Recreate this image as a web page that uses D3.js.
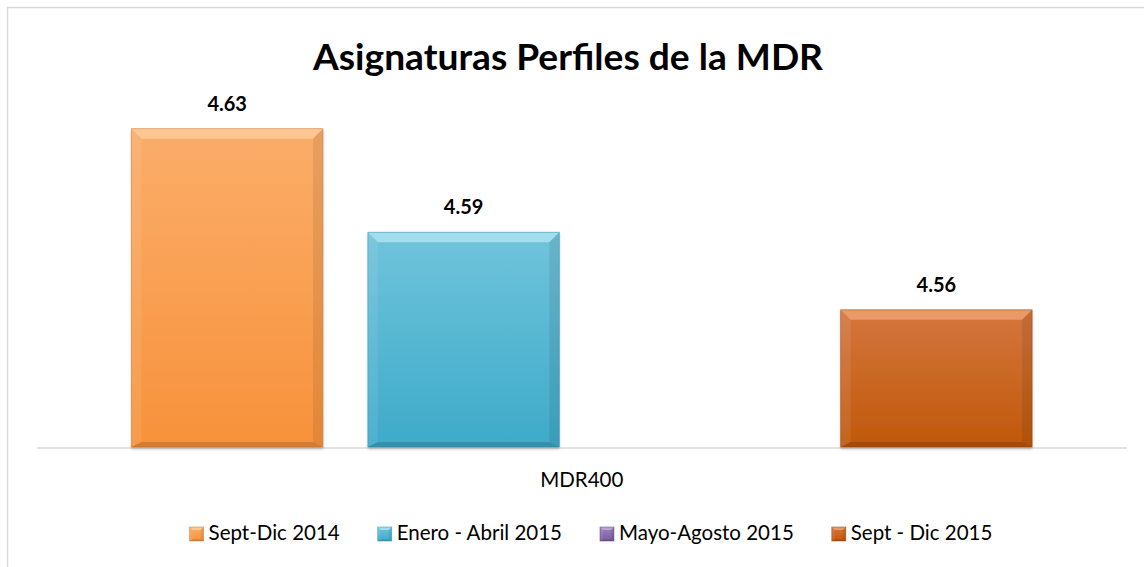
<!DOCTYPE html>
<html>
<head>
<meta charset="utf-8">
<script src="https://cdn.jsdelivr.net/npm/d3@7"></script>
<style>
  body { margin: 0; background: #fff; }
  svg { display: block; font-family: Lato, "Open Sans", sans-serif; }
</style>
</head>
<body>
<div id="canvas"></div>
<script>
// chart data
var title = "Asignaturas Perfiles de la MDR";
var category = "MDR400";
var series = ["Sept-Dic 2014", "Enero - Abril 2015", "Mayo-Agosto 2015", "Sept - Dic 2015"];
var values = [4.63, 4.59, null, 4.56];
var colors = [
  {top: "#fbad6a", bottom: "#f7923b", bevel: "#fdd0a2", edge: "#c8742c"},
  {top: "#70c4db", bottom: "#3eaac9", bevel: "#b2e6f3", edge: "#2f8aa5"},
  {top: "#9a82bb", bottom: "#7a5d9e", bevel: "#c4b3da", edge: "#5e4680"},
  {top: "#d4763f", bottom: "#c0580a", bevel: "#f1a677", edge: "#8f4208"}
];

var width = 1144, height = 567;
var margin = {left: 37, right: 17, top: 128, bottom: 120};
var baseY = 447;

var svg = d3.select("#canvas")
  .append("svg")
  .attr("width", width)
  .attr("height", height);

var defs = svg.append("defs");

colors.forEach(function (c, i) {
  var g = defs.append("linearGradient")
    .attr("id", "grad" + i)
    .attr("x1", 0).attr("y1", 0).attr("x2", 0).attr("y2", 1);
  g.append("stop").attr("offset", "0%").attr("stop-color", c.top);
  g.append("stop").attr("offset", "100%").attr("stop-color", c.bottom);
});

var sh = defs.append("filter").attr("id", "shadow")
  .attr("x", "-5%").attr("y", "-5%").attr("width", "110%").attr("height", "110%");
sh.append("feDropShadow")
  .attr("dx", 0).attr("dy", 2).attr("stdDeviation", 1.5)
  .attr("flood-color", "#000").attr("flood-opacity", 0.25);

// chart border (only left and top visible in the crop)
svg.append("path")
  .attr("d", "M7.5,567 L7.5,7.5 L1144,7.5")
  .attr("fill", "none")
  .attr("stroke", "#d9d9d9")
  .attr("stroke-width", 1.5);

// title
svg.append("text")
  .attr("x", 568)
  .attr("y", 70)
  .attr("text-anchor", "middle")
  .attr("font-size", 37)
  .attr("font-weight", "bold")
  .attr("fill", "#000")
  .attr("textLength", 510)
  .attr("lengthAdjust", "spacingAndGlyphs")
  .text(title);

// scales
var x = d3.scaleBand()
  .domain(series)
  .range([109, 1054.6])
  .paddingInner(0.19)
  .paddingOuter(0.095);

var y = d3.scaleLinear()
  .domain([4.507, 4.63])
  .range([baseY, baseY - 318.3]);

// axis line
svg.append("line")
  .attr("x1", margin.left)
  .attr("x2", width - margin.right)
  .attr("y1", baseY + 1)
  .attr("y2", baseY + 1)
  .attr("stroke", "#d9d9d9")
  .attr("stroke-width", 1.5);

var data = series.map(function (s, i) {
  return {name: s, value: values[i], c: colors[i], i: i};
}).filter(function (d) { return d.value != null; });

var bars = svg.selectAll(".bar")
  .data(data)
  .enter()
  .append("g")
  .attr("class", "bar");

function bevelShapes(g, x0, x1, y0, y1, b, c) {
  g.append("rect")
    .attr("x", x0).attr("y", y0)
    .attr("width", x1 - x0).attr("height", y1 - y0)
    .attr("fill", "url(#grad" + c.idx + ")")
    .attr("filter", c.shadow ? "url(#shadow)" : null);
  // top bevel
  g.append("polygon")
    .attr("points", [[x0, y0], [x1, y0], [x1 - b, y0 + b], [x0 + b, y0 + b]].join(" "))
    .attr("fill", c.bevel).attr("opacity", 0.75);
  // left bevel
  g.append("polygon")
    .attr("points", [[x0, y0], [x0 + b, y0 + b], [x0 + b, y1 - b / 2], [x0, y1]].join(" "))
    .attr("fill", "#fff").attr("opacity", 0.08);
  // right bevel
  g.append("polygon")
    .attr("points", [[x1, y0], [x1 - b, y0 + b], [x1 - b, y1 - b / 2], [x1, y1]].join(" "))
    .attr("fill", "#000").attr("opacity", 0.08);
  // bottom bevel
  g.append("polygon")
    .attr("points", [[x0, y1], [x0 + b, y1 - b / 2], [x1 - b, y1 - b / 2], [x1, y1]].join(" "))
    .attr("fill", "#000").attr("opacity", 0.15);
  g.append("rect")
    .attr("x", x0).attr("y", y0)
    .attr("width", x1 - x0).attr("height", y1 - y0)
    .attr("fill", "none")
    .attr("stroke", c.edge).attr("stroke-opacity", 0.6).attr("stroke-width", 0.8);
}

bars.each(function (d) {
  var g = d3.select(this);
  var x0 = x(d.name), x1 = x(d.name) + x.bandwidth();
  bevelShapes(g, x0, x1, y(d.value), baseY, 10,
    {idx: d.i, bevel: d.c.bevel, edge: d.c.edge, shadow: true});
});

// value labels
svg.selectAll(".val")
  .data(data)
  .enter()
  .append("text")
  .attr("class", "val")
  .attr("x", function (d) { return x(d.name) + x.bandwidth() / 2; })
  .attr("y", function (d) { return y(d.value) - 18; })
  .attr("text-anchor", "middle")
  .attr("font-size", 20)
  .attr("font-weight", "bold")
  .attr("fill", "#000")
  .text(function (d) { return d3.format(".2f")(d.value); });

// category label
svg.append("text")
  .attr("x", (x.range()[0] + x.range()[1]) / 2)
  .attr("y", 487)
  .attr("text-anchor", "middle")
  .attr("font-size", 20.5)
  .attr("fill", "#000")
  .text(category);

// legend
var legend = svg.append("g").attr("class", "legend");
var items = legend.selectAll(".item")
  .data(series)
  .enter()
  .append("g")
  .attr("class", "item");

items.append("text")
  .attr("x", 19)
  .attr("y", 540)
  .attr("font-size", 20.5)
  .attr("fill", "#000")
  .text(function (d) { return d; });

var cursor = 0;
items.each(function (d, i) {
  var g = d3.select(this);
  var w = g.select("text").node().getComputedTextLength();
  g.attr("transform", "translate(" + cursor + ",0)");
  bevelShapes(g, 0, 14, 527, 541, 3,
    {idx: i, bevel: colors[i].bevel, edge: colors[i].edge, shadow: false});
  cursor += 19 + w + 38;
});
cursor -= 38;
legend.attr("transform", "translate(" + (591 - cursor / 2) + ",0)");
</script>
</body>
</html>
